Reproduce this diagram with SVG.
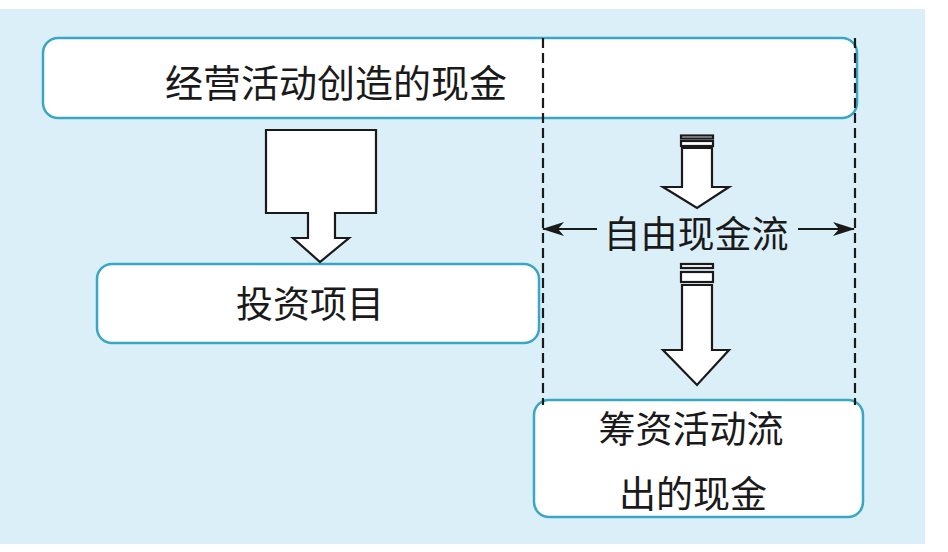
<svg xmlns="http://www.w3.org/2000/svg" width="948" height="552" viewBox="0 0 948 552">
<style>
.box{fill:#fff;stroke:#3aa6c6;stroke-width:2.5}
.lbl{font-family:"Noto Sans CJK SC",sans-serif;font-size:37px;fill:#1a1a1a;text-anchor:middle;dominant-baseline:central}
.big{font-size:38px}
.blk{fill:#fff;stroke:#1a1a1a;stroke-width:2.2;stroke-linejoin:miter}
.dash{stroke:#1a1a1a;stroke-width:2.2;stroke-dasharray:10 5;fill:none}
.ln{stroke:#1a1a1a;stroke-width:2;fill:none}
</style>
<defs>
<marker id="ah" viewBox="0 0 22 14" refX="21" refY="7" markerWidth="22" markerHeight="14" markerUnits="userSpaceOnUse" orient="auto">
<path d="M0,0 L22,7 L0,14 L6,7 Z" fill="#1a1a1a"/>
</marker>
</defs>
<rect x="0" y="9" width="925" height="535" fill="#dbeff8"/>
<g id="operating">
<rect class="box" x="43" y="38" width="814" height="80" rx="15"/>
<text class="lbl big" x="336" y="80">经营活动创造的现金</text>
</g>
<g id="investment">
<rect class="box" x="97" y="264" width="442" height="79" rx="15"/>
<text class="lbl" x="310" y="302">投资项目</text>
</g>
<g id="financing">
<rect class="box" x="534" y="400" width="329" height="117" rx="15"/>
<text class="lbl" x="691" y="427">筹资活动流</text>
<text class="lbl" x="693" y="492">出的现金</text>
</g>
<g id="freecashflow">
<text class="lbl" x="696" y="232">自由现金流</text>
</g>
<g id="connectors">
<line class="dash" x1="543" y1="38" x2="543" y2="405"/>
<line class="dash" x1="855" y1="38" x2="855" y2="405"/>
<path class="blk" d="M266,130 H376 V213 H335 V238 H349 L320,262 L293,238 H308 V213 H266 Z"/>
<rect class="blk" x="681" y="135.5" width="32" height="3"/>
<rect class="blk" x="681" y="141" width="32" height="5"/>
<path class="blk" d="M682,148 H712 V187 H729 L697,208 L663,187 H682 Z"/>
<rect class="blk" x="681" y="264" width="32" height="4"/>
<rect class="blk" x="681" y="272" width="32" height="10"/>
<path class="blk" d="M682,285 H712 V350 H729 L697,385 L663,350 H682 Z"/>
<line class="ln" x1="597" y1="229" x2="543" y2="229" marker-end="url(#ah)"/>
<line class="ln" x1="798" y1="229" x2="854" y2="229" marker-end="url(#ah)"/>
</g>
</svg>
